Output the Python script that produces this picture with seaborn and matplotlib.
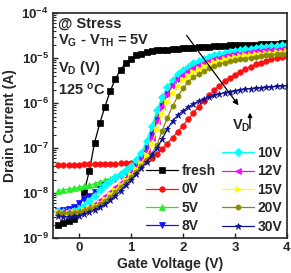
import numpy as np
import matplotlib
matplotlib.use("Agg")
import matplotlib.pyplot as plt
import seaborn as sns
from matplotlib.ticker import FixedLocator, FuncFormatter, LogLocator, NullFormatter

# ---------------- data (log10 of drain current, A) ----------------
gate_v = [-0.4, -0.3, -0.2, -0.1, 0.0, 0.1, 0.2, 0.3, 0.4, 0.5, 0.6, 0.7, 0.8, 0.9,
          1.0, 1.1, 1.2, 1.3, 1.4, 1.5, 1.6, 1.7, 1.8, 1.9, 2.0, 2.1, 2.2, 2.3, 2.4,
          2.5, 2.6, 2.7, 2.8, 2.9, 3.0, 3.1, 3.2, 3.3, 3.4, 3.5, 3.6, 3.7, 3.8, 3.9, 4.0]

log_fresh = [-8.72, -8.66, -8.62, -8.57, -8.35, -7.98, -7.50, -6.88, -6.45, -6.08, -5.74, -5.46,
             -5.26, -5.11, -5.01, -4.94, -4.90, -4.87, -4.85, -4.83, -4.82, -4.81, -4.80, -4.79,
             -4.78, -4.77, -4.77, -4.76, -4.75, -4.75, -4.74, -4.73, -4.73, -4.72, -4.72, -4.71,
             -4.71, -4.70, -4.70, -4.69, -4.69, -4.68, -4.68, -4.67, -4.67]
log_0v = [-7.37, -7.37, -7.37, -7.37, -7.37, -7.36, -7.36, -7.36, -7.36, -7.35, -7.35, -7.35,
          -7.34, -7.34, -7.33, -7.32, -7.30, -7.27, -7.22, -7.14, -7.03, -6.90, -6.77, -6.64,
          -6.50, -6.36, -6.22, -6.08, -5.95, -5.83, -5.72, -5.61, -5.52, -5.44, -5.37, -5.30,
          -5.24, -5.19, -5.14, -5.10, -5.06, -5.03, -5.00, -4.98, -4.96]
log_5v = [-7.95, -7.93, -7.91, -7.89, -7.87, -7.85, -7.82, -7.79, -7.75, -7.72, -7.68, -7.63,
          -7.57, -7.50, -7.42, -7.30, -7.14, -6.92, -6.60, -6.25, -5.95, -5.70, -5.52, -5.39,
          -5.29, -5.21, -5.14, -5.08, -5.03, -4.99, -4.96, -4.93, -4.90, -4.88, -4.86, -4.84,
          -4.82, -4.81, -4.79, -4.78, -4.77, -4.76, -4.75, -4.74, -4.73]
log_8v = [-8.39, -8.38, -8.36, -8.31, -8.22, -8.13, -8.06, -7.98, -7.90, -7.83, -7.75, -7.68,
          -7.61, -7.53, -7.45, -7.35, -7.20, -7.00, -6.70, -6.38, -6.06, -5.80, -5.60, -5.46,
          -5.36, -5.27, -5.20, -5.14, -5.09, -5.05, -5.01, -4.98, -4.95, -4.93, -4.91, -4.89,
          -4.87, -4.86, -4.84, -4.83, -4.82, -4.81, -4.80, -4.79, -4.79]
log_10v = [-8.40, -8.41, -8.41, -8.39, -8.35, -8.28, -8.18, -8.06, -7.93, -7.82, -7.73, -7.65,
           -7.57, -7.48, -7.39, -7.27, -7.10, -6.85, -6.50, -6.15, -5.86, -5.64, -5.48, -5.36,
           -5.27, -5.19, -5.12, -5.06, -5.01, -4.97, -4.94, -4.91, -4.88, -4.86, -4.84, -4.82,
           -4.80, -4.79, -4.77, -4.76, -4.75, -4.74, -4.73, -4.72, -4.71]
log_12v = [-8.42, -8.43, -8.43, -8.42, -8.40, -8.36, -8.31, -8.24, -8.16, -8.07, -7.97, -7.87,
           -7.77, -7.66, -7.55, -7.42, -7.27, -7.07, -6.78, -6.40, -6.06, -5.80, -5.61, -5.47,
           -5.37, -5.28, -5.21, -5.15, -5.10, -5.06, -5.02, -4.99, -4.96, -4.94, -4.92, -4.90,
           -4.88, -4.87, -4.85, -4.84, -4.83, -4.82, -4.81, -4.80, -4.79]
log_15v = [-8.43, -8.44, -8.44, -8.43, -8.41, -8.38, -8.34, -8.28, -8.21, -8.13, -8.03, -7.93,
           -7.82, -7.71, -7.60, -7.47, -7.33, -7.16, -6.92, -6.58, -6.25, -5.98, -5.77, -5.61,
           -5.49, -5.39, -5.31, -5.24, -5.18, -5.13, -5.09, -5.06, -5.03, -5.00, -4.98, -4.96,
           -4.94, -4.93, -4.91, -4.90, -4.89, -4.88, -4.87, -4.86, -4.85]
log_20v = [-8.44, -8.45, -8.45, -8.44, -8.42, -8.40, -8.36, -8.31, -8.25, -8.17, -8.08, -7.98,
           -7.87, -7.76, -7.65, -7.53, -7.40, -7.27, -7.13, -6.93, -6.62, -6.33, -6.07, -5.85,
           -5.67, -5.53, -5.43, -5.35, -5.29, -5.23, -5.18, -5.14, -5.10, -5.07, -5.05, -5.03,
           -5.01, -4.99, -4.97, -4.96, -4.94, -4.93, -4.92, -4.91, -4.90]
log_30v = [-8.52, -8.53, -8.53, -8.52, -8.50, -8.47, -8.43, -8.38, -8.32, -8.25, -8.16, -8.06,
           -7.95, -7.83, -7.71, -7.58, -7.45, -7.31, -7.16, -7.00, -6.80, -6.58, -6.40, -6.27,
           -6.17, -6.09, -6.02, -5.96, -5.91, -5.87, -5.83, -5.80, -5.77, -5.75, -5.73, -5.71,
           -5.69, -5.68, -5.67, -5.66, -5.65, -5.64, -5.63, -5.62, -5.61]

labels = ["fresh", "0V", "5V", "8V", "10V", "12V", "15V", "20V", "30V"]
series = [log_fresh, log_0v, log_5v, log_8v, log_10v, log_12v, log_15v, log_20v, log_30v]
colors = ["#000000", "#ff1010", "#22ee22", "#1010ff", "#00ffff", "#ff00ff", "#ffff00",
          "#8a8a00", "#101090"]
markers = ["s", "o", "^", "v", "D", "<", ">", "h", "*"]
ytick_vals = [1e-9, 1e-8, 1e-7, 1e-6, 1e-5, 1e-4]
xtick_vals = [0, 1, 2, 3, 4]

# ---------------- style ----------------
sns.set_style("ticks")
plt.rcParams["font.family"] = ["Liberation Sans", "DejaVu Sans"]
plt.rcParams["font.weight"] = "bold"
plt.rcParams["mathtext.fontset"] = "custom"
plt.rcParams["mathtext.rm"] = "Liberation Sans:bold"
plt.rcParams["mathtext.bf"] = "Liberation Sans:bold"
plt.rcParams["mathtext.it"] = "Liberation Sans:bold"
plt.rcParams["xtick.direction"] = "in"
plt.rcParams["ytick.direction"] = "in"

fig = plt.figure(figsize=(2.91, 2.73), dpi=100)
ax = fig.add_axes([0.182, 0.128, 0.804, 0.824])

for lab, vals, c, m in zip(labels, series, colors, markers):
    ms = 5.0 if m == "*" else 4.0
    sns.lineplot(x=gate_v, y=10 ** np.array(vals), ax=ax, color=c, marker=m,
                 markersize=ms, markeredgecolor=c, markeredgewidth=0.5,
                 linewidth=0.9, label=lab, legend=False)

ax.set_yscale("log")
ax.set_ylim(1e-9, 1e-4)
ax.set_xlim(-0.5, 4.0)
ax.yaxis.set_major_locator(FixedLocator(ytick_vals))
ax.yaxis.set_major_formatter(FuncFormatter(
    lambda v, p: r"$\mathbf{10^{%d}}$" % int(round(np.log10(v)))))
ax.yaxis.set_minor_locator(LogLocator(base=10, subs=np.arange(2, 10)))
ax.yaxis.set_minor_formatter(NullFormatter())
ax.set_xticks(xtick_vals)
ax.set_xticklabels([str(v) for v in xtick_vals])
ax.tick_params(axis="both", which="major", length=3.5, width=1.0, labelsize=9.5, pad=3,
               top=False, right=False)
ax.tick_params(axis="y", which="minor", length=2, width=0.8, right=False)
for lbl in ax.get_xticklabels() + ax.get_yticklabels():
    lbl.set_fontweight("bold")
for sp in ax.spines.values():
    sp.set_linewidth(1.2)
    sp.set_visible(True)

ax.set_xlabel("Gate Voltage (V)", fontsize=10, fontweight="bold", labelpad=2)
ax.set_ylabel("Drain Current (A)", fontsize=10, fontweight="bold", labelpad=3)

# annotations
tk = dict(transform=ax.transAxes, fontsize=10.5, fontweight="bold", va="top", ha="left")
ax.text(0.021, 0.985, "@ Stress", **tk)
ax.text(0.021, 0.915, r"V$_{G}$ - V$_{TH}$ = 5V", **tk)
ax.text(0.021, 0.795, r"V$_{D}$ (V)", **tk)
ax.text(0.021, 0.695, r"125 $^{o}$C", **tk)

ax.annotate("", xy=(0.80, 0.58), xytext=(0.564, 0.911), xycoords="axes fraction",
            arrowprops=dict(arrowstyle="-|>", color="k", lw=0.9, mutation_scale=8))
ax.text(0.765, 0.50, r"V$_{D}$", transform=ax.transAxes, fontsize=10.5,
        fontweight="bold", va="center", ha="left")
ax.annotate("", xy=(0.842, 0.57), xytext=(0.842, 0.475), xycoords="axes fraction",
            arrowprops=dict(arrowstyle="-|>", color="k", lw=1.0, mutation_scale=6))

# legends
handles = ax.get_lines()[:len(labels)]
lkw = dict(frameon=False, prop={"weight": "bold", "size": 10}, handlelength=2.3,
           handletextpad=0.25, labelspacing=0.32, borderpad=0, borderaxespad=0,
           loc="upper left", bbox_transform=fig.transFigure)
leg1 = ax.legend(handles[:4], labels[:4], bbox_to_anchor=(146 / 291, 1 - 164 / 273), **lkw)
ax.add_artist(leg1)
ax.legend(handles[4:], labels[4:], bbox_to_anchor=(222 / 291, 1 - 146 / 273), **lkw)

fig.savefig("out.png", dpi=100)
